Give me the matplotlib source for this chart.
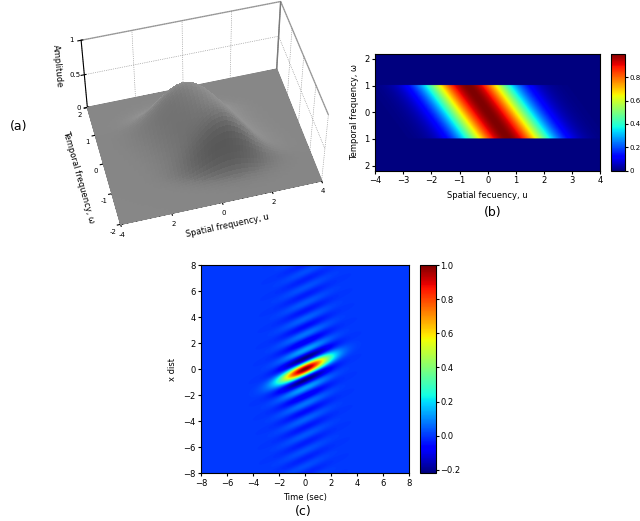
import numpy as np
import matplotlib
matplotlib.use("Agg")
import matplotlib.pyplot as plt
from matplotlib.colors import LightSource

# --- model parameters ---
band_slope = -0.7      # centre of the band in u moves by this per unit of w
band_width = 1.5       # spread of the band in u
band_w_limit = 1.0     # band is cut at |w| = 1
gabor_tilt = 0.45      # slope of the elongated kernel in (t, x)
gabor_period = 1.2     # x distance between stripes
gabor_t_sigma = 1.3    # envelope width in time

u_ticks = [-4, -3, -2, -1, 0, 1, 2, 3, 4]
w_ticks = [-2, -1, 0, 1, 2]
w_labels = ["2", "1", "0", "1", "2"]
t_ticks = [-8, -6, -4, -2, 0, 2, 4, 6, 8]
cb_b_ticks = [0, 0.2, 0.4, 0.6, 0.8]
cb_c_ticks = [-0.2, 0, 0.2, 0.4, 0.6, 0.8, 1]

plt.rcParams["font.family"] = "DejaVu Sans"
plt.rcParams["font.size"] = 6

fig = plt.figure(figsize=(6.4, 5.21), dpi=100)

# --- frequency-domain band ---
u = np.linspace(-4, 4, 321)
w = np.linspace(-2.2, 2.2, 221)
U, W = np.meshgrid(u, w)
band = np.exp(-((U - band_slope * W) / band_width) ** 2)
band[np.abs(W) > band_w_limit] = 0

# --- (a) 3D surface ---
ax3 = fig.add_axes([0.02, 0.52, 0.58, 0.52], projection="3d")
us = np.linspace(-4, 4, 121)
ws = np.linspace(-2, 2, 61)
US, WS = np.meshgrid(us, ws)
soft = 0.75 * np.exp(-((US - band_slope * WS) / band_width) ** 2) / (1 + np.exp((np.abs(WS) - band_w_limit) / 0.15))
ls = LightSource(azdeg=20, altdeg=35)
ax3.plot_surface(US, WS, soft, color="0.62", linewidth=0, edgecolor="none",
                 antialiased=False, shade=True, lightsource=ls, rcount=120, ccount=120)
ax3.view_init(elev=50, azim=-105)
ax3.set_box_aspect((1.6, 1.2, 0.8))
ax3.set_xlim(-4, 4); ax3.set_ylim(-2, 2); ax3.set_zlim(0, 1)
ax3.set_xticks([-4, -2, 0, 2, 4]); ax3.set_yticks(w_ticks); ax3.set_zticks([0, 0.5, 1])
ax3.set_xticklabels(["-4", "2", "0", "2", "4"])
ax3.set_yticklabels(["-2", "-1", "0", "1", "2"])
ax3.set_zticklabels(["0", "0.5", "1"])
ax3.set_xlabel("Spatial frequency, u", labelpad=-8)
ax3.set_ylabel("Temporal frequency, ω", labelpad=-8)
ax3.set_zlabel("Amplitude", labelpad=-9)
ax3.tick_params(pad=-4, labelsize=5)
for a in (ax3.xaxis, ax3.yaxis, ax3.zaxis):
    a.pane.fill = False
    a.pane.set_edgecolor("0.3")
    a._axinfo["grid"]["linestyle"] = ":"
    a._axinfo["grid"]["linewidth"] = 0.5
    a._axinfo["grid"]["color"] = "0.5"
fig.text(0.015, 0.75, "(a)", fontsize=9)

# --- (b) band image ---
axb = fig.add_axes([0.586, 0.672, 0.352, 0.225])
im = axb.imshow(band, extent=[-4, 4, -2.2, 2.2], origin="lower", cmap="jet",
                vmin=0, vmax=1, aspect="auto")
axb.set_xticks(u_ticks); axb.set_yticks(w_ticks); axb.set_yticklabels(w_labels[::-1])
axb.set_xlabel("Spatial fecuency, u")
axb.set_ylabel("Temporal frequency, ω")
axb.tick_params(length=2, pad=2)
cab = fig.add_axes([0.955, 0.672, 0.022, 0.225])
cb = fig.colorbar(im, cax=cab, ticks=cb_b_ticks)
cb.ax.set_yticklabels(["0", "0.2", "0.4", "0.6", "0.8"])
cb.ax.tick_params(length=2, pad=1, labelsize=5)
fig.text(0.77, 0.585, "(b)", fontsize=9, ha="center")

# --- (c) space-time kernel ---
t = np.linspace(-8, 8, 401)
x = np.linspace(-8, 8, 401)
T, X = np.meshgrid(t, x)
v = (X - gabor_tilt * T) / (gabor_period / 2)
kernel = np.exp(-T ** 2 / (2 * gabor_t_sigma ** 2)) * np.sinc(v)
axc = fig.add_axes([0.314, 0.092, 0.325, 0.399])
im2 = axc.imshow(kernel, extent=[-8, 8, -8, 8], origin="lower", cmap="jet",
                 vmin=-0.22, vmax=1, aspect="auto")
axc.set_xticks(t_ticks); axc.set_yticks(t_ticks)
axc.set_xlabel("Time (sec)")
axc.set_ylabel("x dist")
axc.tick_params(length=2, pad=2)
cac = fig.add_axes([0.656, 0.092, 0.025, 0.399])
cb2 = fig.colorbar(im2, cax=cac, ticks=cb_c_ticks)
cb2.ax.tick_params(length=2, pad=1, labelsize=6)
fig.text(0.474, 0.012, "(c)", fontsize=9, ha="center")

fig.savefig("out.png", dpi=100)
